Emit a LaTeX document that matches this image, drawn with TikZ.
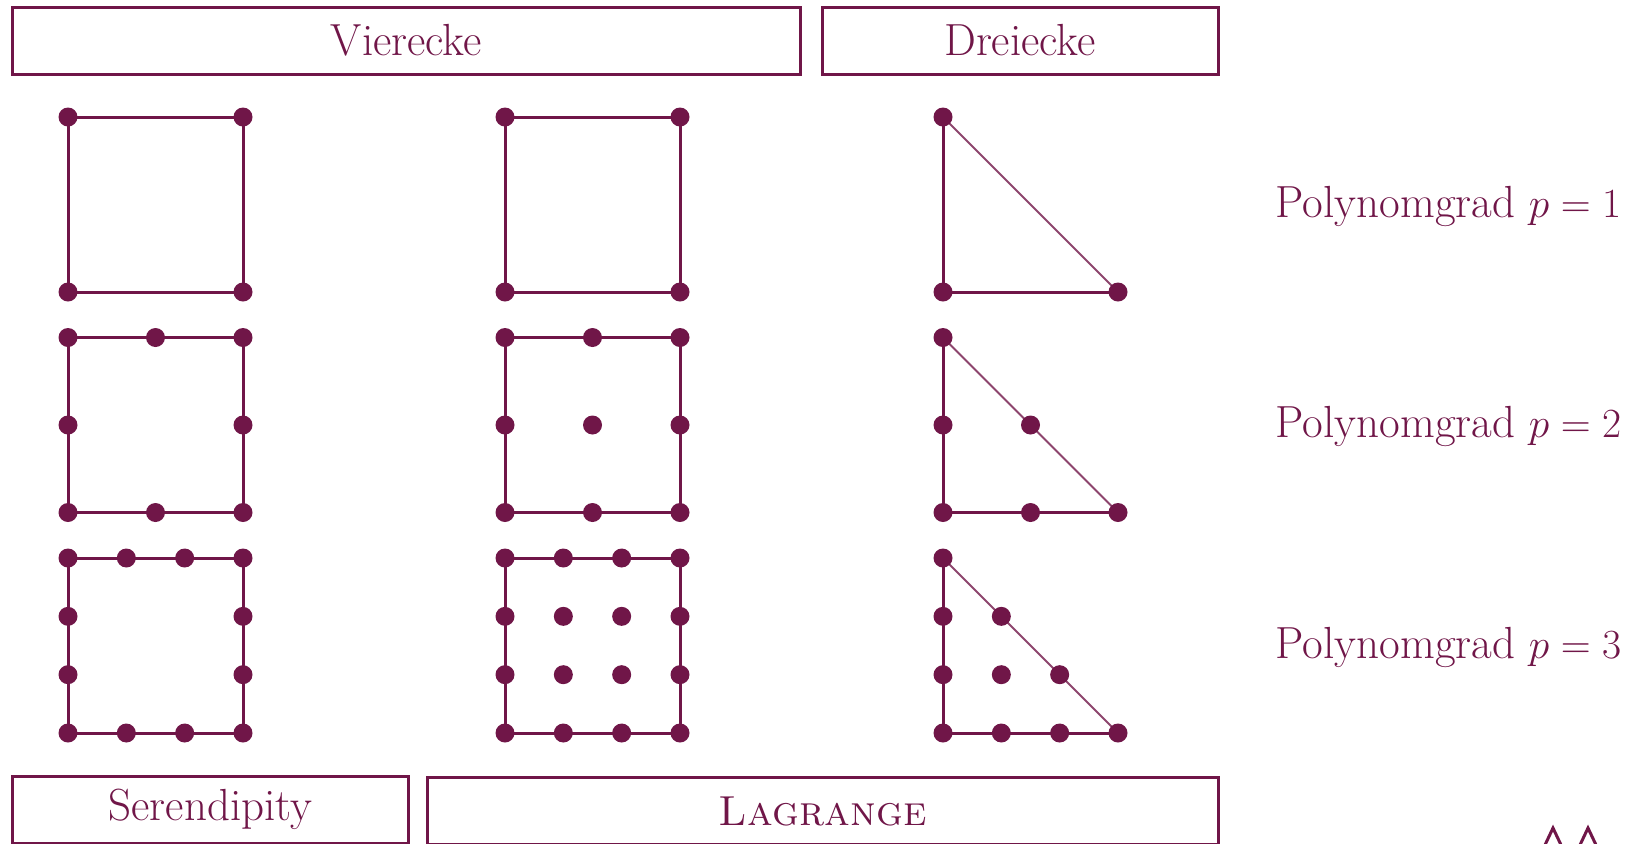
\documentclass[tikz,border=0pt]{standalone}
\definecolor{fem}{RGB}{112,22,72}
\newcommand\serendel[4]{%
  \draw[edge] (#1,#2) rectangle ++(175,175);
  \foreach \i in {0,...,#3}{\foreach \j in {0,...,#3}{%
    \pgfmathtruncatemacro\onb{(\i==0)||(\i==#3)||(\j==0)||(\j==#3)}%
    \ifnum\onb>0 \node[dot] (#4-\i-\j) at ({#1+\i*175/#3},{#2+\j*175/#3}) {};\fi}}}
\newcommand\lagrel[4]{%
  \draw[edge] (#1,#2) rectangle ++(175,175);
  \foreach \i in {0,...,#3}{\foreach \j in {0,...,#3}{%
    \node[dot] (#4-\i-\j) at ({#1+\i*175/#3},{#2+\j*175/#3}) {};}}}
\newcommand\triel[4]{%
  \draw[edge] (#1,#2) -- ++(0,175) -- ++(175,0);
  \draw[hyp] (#1,#2) -- ++(175,175);
  \foreach \i in {0,...,#3}{\foreach \j in {0,...,#3}{%
    \pgfmathtruncatemacro\ss{\i+\j}%
    \ifnum\ss>#3 \else \node[dot] (#4-\i-\j) at ({#1+\i*175/#3},{#2+175-\j*175/#3}) {};\fi}}}
\begin{document}
\begin{tikzpicture}[x=0.5pt,y=-0.5pt,
  frame/.style={draw=fem, line width=1.5pt, text=fem, inner sep=0pt, minimum height=33.5pt, font=\fontsize{22.5}{26}\selectfont},
  edge/.style={draw=fem, line width=1.5pt},
  hyp/.style={draw=fem!80, line width=0.9pt},
  dot/.style={circle, fill=fem, inner sep=0pt, minimum size=9.5pt},
  plabel/.style={text=fem, font=\fontsize{22.5}{26}\selectfont}]
\useasboundingbox (0,0) rectangle (1639,843);
% header / footer boxes
\node[frame, minimum width=393.65pt] (vier) at (406.35,40.5) {Vierecke};
\node[frame, minimum width=198pt] (drei) at (1020,40.5) {Dreiecke};
\node[frame, minimum width=197.65pt] (seren) at (210.35,809.5) {Serendipity};
\node[frame, minimum width=395.25pt, font=\fontsize{21}{25}\selectfont] (lagr) at (822.75,811) {\textsc{Lagrange}};
% elements
\serendel{68}{117}{1}{sa}
\serendel{68}{337.5}{2}{sb}
\serendel{68}{558}{3}{sc}
\lagrel{505}{117}{1}{la}
\lagrel{505}{337.5}{2}{lb}
\lagrel{505}{558}{3}{lc}
\triel{943}{117}{1}{ta}
\triel{943}{337.5}{2}{tb}
\triel{943}{558}{3}{tc}
% labels
\node[plabel] (p1) at (1448.5,206) {Polynomgrad $p=1$};
\node[plabel] (p2) at (1448.5,426) {Polynomgrad $p=2$};
\node[plabel] (p3) at (1448.5,647) {Polynomgrad $p=3$};
% partial chevrons at the bottom edge
\draw[fem, line width=1.5pt] (1544.5,846) -- (1553,828) -- (1561.5,846);
\draw[fem, line width=1.5pt] (1579.5,846) -- (1588,828) -- (1596.5,846);
\end{tikzpicture}
\end{document}
